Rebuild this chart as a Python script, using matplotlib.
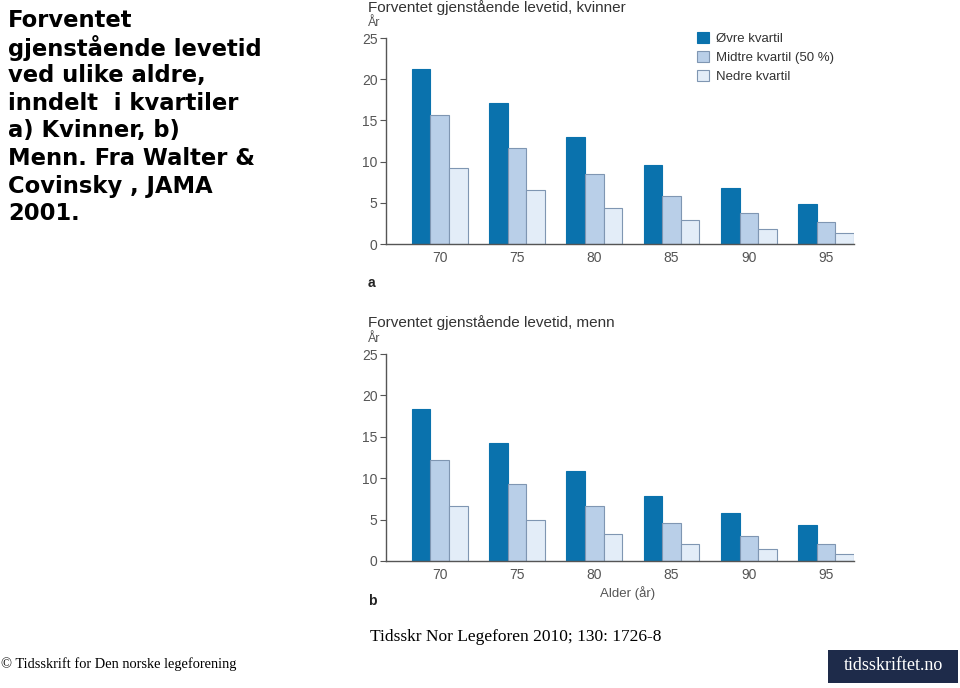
import matplotlib.pyplot as plt
import numpy as np
from matplotlib.patches import Rectangle

# alder (x-aksen)
ages = ["70", "75", "80", "85", "90", "95"]
series = ["Øvre kvartil", "Midtre kvartil (50 %)", "Nedre kvartil"]

# kvinner
women_upper = [21.2, 17.1, 13.0, 9.6, 6.8, 4.8]
women_mid = [15.6, 11.7, 8.5, 5.8, 3.8, 2.7]
women_low = [9.2, 6.6, 4.4, 2.9, 1.8, 1.3]

# menn
men_upper = [18.3, 14.2, 10.9, 7.9, 5.8, 4.3]
men_mid = [12.2, 9.3, 6.6, 4.6, 3.0, 2.1]
men_low = [6.6, 4.9, 3.3, 2.1, 1.4, 0.8]

left_lines = ["Forventet", "gjenstående levetid", "ved ulike aldre,",
              "inndelt  i kvartiler", "a) Kvinner, b)", "Menn. Fra Walter &",
              "Covinsky , JAMA", "2001."]

colors = ["#0a72ad", "#b9cfe8", "#e3edf8"]
edges = ["#0a72ad", "#7f96b2", "#7f96b2"]
grey = "#555555"
sans = "Liberation Sans"

W, H = 960, 688
fig = plt.figure(figsize=(9.6, 6.88), dpi=100)


def px(xp, yp):
    # pikselkoordinater (fra øvre venstre hjørne) -> figurkoordinater
    return xp / W, 1 - yp / H


w = 0.24
x = np.arange(len(ages))


def draw(ax, vals, legend=False):
    for i, (v, c, e) in enumerate(zip(vals, colors, edges)):
        ax.bar(x + (i - 1) * w, v, w, color=c, edgecolor=e, linewidth=0.8,
               label=series[i], zorder=2)
    ax.set_xlim(-1.5 * w - 0.335, 5 + 1.5 * w)
    ax.set_ylim(0, 25)
    ax.set_yticks([0, 5, 10, 15, 20, 25])
    ax.set_xticks(x)
    ax.set_xticklabels(ages)
    for s in ["top", "right"]:
        ax.spines[s].set_visible(False)
    for s in ["left", "bottom"]:
        ax.spines[s].set_color(grey)
        ax.spines[s].set_linewidth(1.0)
    ax.tick_params(axis="x", length=0, pad=5, labelsize=10, labelcolor=grey)
    ax.tick_params(axis="y", length=4, color=grey, pad=2, labelsize=10, labelcolor=grey)
    for t in ax.get_xticklabels() + ax.get_yticklabels():
        t.set_family(sans)
    if legend:
        leg = ax.legend(loc="upper left", bbox_to_anchor=(0.64, 1.085), frameon=False,
                        prop={"family": sans, "size": 9.5}, handlelength=0.9,
                        handleheight=0.9, handletextpad=0.5, labelspacing=0.45)
        for t in leg.get_texts():
            t.set_color("#333333")


ax1 = fig.add_axes([386 / W, 1 - 244 / H, 468 / W, 206 / H])
draw(ax1, [women_upper, women_mid, women_low], legend=True)

ax2 = fig.add_axes([386 / W, 1 - 561 / H, 468 / W, 207 / H])
draw(ax2, [men_upper, men_mid, men_low])

# titler, enheter og bokstaver
fig.text(*px(368, 8), "Forventet gjenstående levetid, kvinner", fontsize=11,
         color="#333333", family=sans, ha="left", va="center")
fig.text(*px(368, 23), "År", fontsize=9, color=grey, family=sans, ha="left", va="center")
fig.text(*px(368, 283), "a", fontsize=10, fontweight="bold", color="#222222",
         family=sans, ha="left", va="center")

fig.text(*px(368, 323), "Forventet gjenstående levetid, menn", fontsize=11,
         color="#333333", family=sans, ha="left", va="center")
fig.text(*px(368, 339), "År", fontsize=9, color=grey, family=sans, ha="left", va="center")
fig.text(*px(368, 601), "b", fontsize=10, fontweight="bold", color="#222222",
         family=sans, ha="left", va="center")
fig.text(*px(628, 593), "Alder (år)", fontsize=9.5, color=grey, family=sans,
         ha="center", va="center")

for i, line in enumerate(left_lines):
    fig.text(*px(8, 20.5 + 27.6 * i), line, fontsize=16.3, fontweight="bold",
             family="DejaVu Sans", ha="left", va="center")

fig.text(*px(370, 637), "Tidsskr Nor Legeforen 2010; 130: 1726-8",
         fontsize=12.5, family="Liberation Serif", ha="left", va="center")
fig.text(*px(1, 664), "© Tidsskrift for Den norske legeforening",
         fontsize=10.4, family="Liberation Serif", ha="left", va="center")

# logo
fig.patches.append(Rectangle(px(828, 683), 130 / W, 33 / H,
                             transform=fig.transFigure, facecolor="#1e2b4a",
                             edgecolor="none"))
fig.text(*px(893, 665), "tidsskriftet.no", fontsize=13,
         family="Liberation Serif", color="white", ha="center", va="center")

fig.savefig("out.png", dpi=100)
